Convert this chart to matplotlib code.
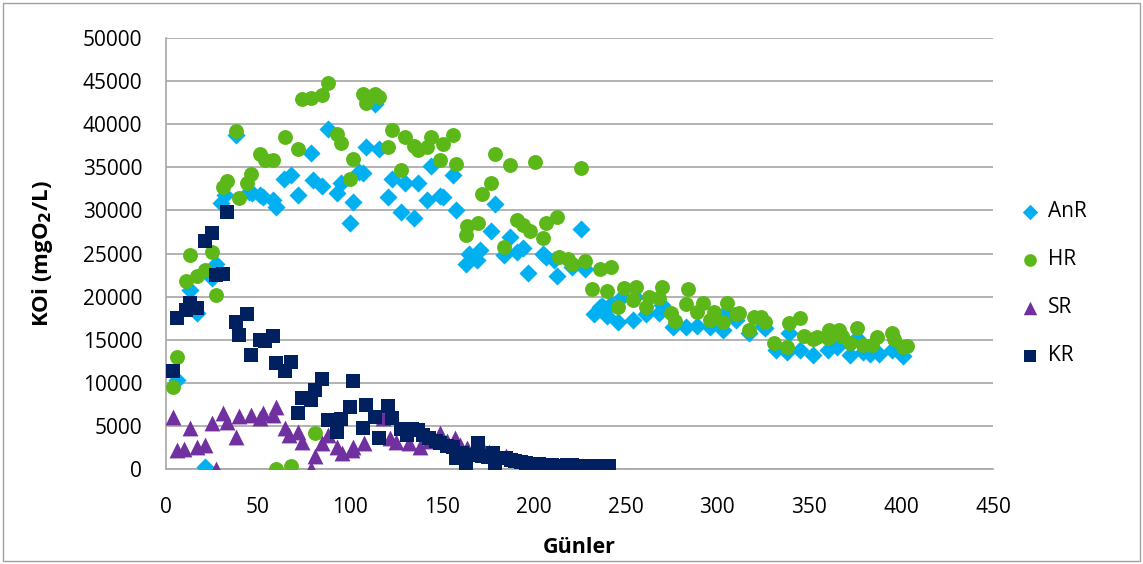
import matplotlib.pyplot as plt
from matplotlib.patches import Rectangle

plt.rcParams['font.family'] = ['Open Sans', 'DejaVu Sans']

# AnR reactor
anr_days = [6, 13, 17, 21, 25, 27, 30, 32, 38, 45, 47, 51, 53, 58, 60, 64, 68, 72, 79, 80,
            85, 88, 93, 95, 100, 102, 105, 107, 109, 114, 116, 121, 123, 128, 130, 135, 137,
            142, 144, 149, 151, 156, 158, 163, 165, 169, 171, 177, 179, 184, 187, 191, 194,
            197, 205, 207, 211, 213, 221, 226, 228, 233, 236, 237, 240, 242, 246, 248, 254,
            255, 261, 268, 270, 276, 283, 289, 296, 303, 304, 310, 317, 325, 326, 332, 338,
            339, 345, 352, 360, 365, 372, 376, 379, 383, 388, 395, 401]
anr_koi = [10300, 20800, 18100, 200, 22200, 23800, 30900, 31800, 38800, 32100, 32000, 31800,
           31500, 31200, 30400, 33700, 34100, 31800, 36700, 33500, 32800, 39400, 32000, 33200,
           28500, 31000, 34400, 34300, 37400, 42400, 37100, 31500, 33700, 29800, 33200, 29100,
           33200, 31200, 35100, 31700, 31600, 34100, 30000, 23800, 25000, 24200, 25400, 27600,
           30700, 24800, 26900, 25200, 25600, 22700, 25000, 24600, 24200, 22400, 23400, 27800,
           23200, 18000, 18800, 18900, 17700, 19200, 17100, 20000, 17300, 20000, 18000, 18100,
           19000, 16500, 16500, 16600, 16500, 16100, 18100, 17300, 15800, 16600, 16400, 13800,
           13600, 15800, 13800, 13200, 13800, 14100, 13200, 15200, 13600, 13400, 13400, 13800,
           13100]

# HR reactor
hr_days = [4, 6, 11, 13, 17, 21, 25, 27, 31, 33, 38, 40, 44, 46, 51, 54, 58, 60, 65, 68, 72,
           74, 79, 81, 85, 88, 93, 95, 100, 102, 107, 109, 114, 116, 121, 123, 128, 130, 135,
           137, 142, 144, 149, 151, 156, 158, 163, 164, 170, 172, 177, 179, 184, 187, 191, 194,
           198, 201, 205, 207, 213, 214, 219, 221, 226, 228, 232, 236, 240, 242, 246, 249, 254,
           256, 261, 263, 268, 270, 275, 277, 283, 284, 289, 292, 296, 298, 303, 305, 310, 312,
           317, 320, 324, 326, 331, 338, 339, 345, 347, 352, 354, 360, 361, 366, 368, 372, 376,
           379, 384, 387, 395, 396, 401, 403]
hr_koi = [9500, 13000, 21800, 24800, 22400, 23100, 25200, 20200, 32700, 33400, 39200, 31400,
          33200, 34200, 36600, 35900, 35800, 0, 38500, 300, 37100, 42900, 43000, 4200, 43400,
          44800, 38900, 37800, 33600, 36000, 43500, 42500, 43500, 43100, 37400, 39300, 34700,
          38500, 37500, 37000, 37400, 38500, 35800, 37700, 38700, 35400, 27100, 28200, 28500,
          31900, 33200, 36500, 25800, 35300, 28900, 28300, 27600, 35600, 26800, 28500, 29200,
          24600, 24400, 23800, 34900, 24100, 20900, 23200, 20600, 23400, 18800, 21000, 19600,
          21100, 18800, 20000, 19800, 21100, 18100, 17200, 19100, 20900, 18200, 19300, 17300,
          18200, 17100, 19300, 18000, 18100, 16100, 17600, 17600, 17000, 14600, 14200, 16900,
          17500, 15400, 15100, 15300, 15200, 16100, 16100, 15400, 14600, 16400, 14400, 14400,
          15300, 15800, 15100, 14200, 14300]

# SR reactor
sr_days = [4, 6, 10, 13, 17, 21, 25, 27, 31, 33, 38, 40, 46, 51, 53, 58, 60, 65, 67, 72, 74,
           79, 81, 85, 88, 93, 96, 101, 102, 108, 118, 122, 125, 132, 138, 143, 149, 153, 157,
           160, 164, 168, 172, 176, 180, 185]
sr_koi = [6000, 2200, 2300, 4800, 2600, 2800, 5300, 0, 6500, 5500, 3700, 6100, 6300, 5900,
          6500, 6300, 7200, 4800, 3900, 4300, 3100, 0, 1500, 3000, 4000, 2600, 1900, 2200,
          2600, 3000, 5900, 3600, 3100, 3000, 2600, 3300, 4200, 3200, 3600, 2800, 2400, 2700,
          2500, 2000, 1800, 1500]

# KR reactor
kr_days = [4, 6, 11, 13, 17, 21, 25, 27, 31, 33, 38, 40, 44, 46, 51, 54, 58, 60, 65, 68, 72,
           74, 79, 81, 85, 88, 93, 95, 100, 102, 107, 109, 114, 116, 121, 123, 128, 131, 134,
           137, 140, 143, 147, 149, 153, 156, 158, 161, 163, 166, 170, 172, 175, 178, 179, 182,
           185, 188, 190, 193, 196, 200, 203, 207, 210, 214, 218, 221, 225, 229, 232, 235, 238,
           241]
kr_koi = [11400, 17500, 18400, 19300, 18700, 26500, 27400, 22500, 22600, 29800, 17000, 15500,
          18000, 13200, 15000, 14800, 15400, 12300, 11400, 12400, 6500, 8200, 8000, 9200, 10500,
          5700, 4300, 5800, 7200, 10200, 4800, 7400, 6000, 3600, 7300, 5900, 4700, 4000, 4600,
          4500, 3900, 3600, 3200, 3000, 2700, 2600, 1300, 1900, 700, 1600, 3000, 1500, 1400,
          1900, 500, 1300, 1300, 1000, 900, 800, 700, 500, 600, 400, 500, 300, 500, 500, 400,
          100, 300, 100, 300, 300]

fig = plt.figure(figsize=(11.43, 5.64), dpi=100)
ax = fig.add_axes([0.1452, 0.1684, 0.7236, 0.7642])

ax.scatter(anr_days, anr_koi, marker='D', s=85, color='#00B0F0', label='AnR', zorder=3, linewidths=0)
ax.scatter(hr_days, hr_koi, marker='o', s=115, color='#5BB818', label='HR', zorder=4, linewidths=0)
ax.scatter(sr_days, sr_koi, marker='^', s=130, color='#7030A0', label='SR', zorder=5, linewidths=0)
ax.scatter(kr_days, kr_koi, marker='s', s=115, color='#002060', label='KR', zorder=6, linewidths=0)

ax.set_xlim(0, 450)
ax.set_ylim(0, 50000)
ax.set_xticks(range(0, 451, 50))
ax.set_yticks(range(0, 50001, 5000))
ax.tick_params(length=0, labelsize=15)
ax.tick_params(axis='y', pad=17)
ax.tick_params(axis='x', pad=20)
ax.grid(axis='y', color='#A6A6A6', linewidth=1.2)
ax.set_axisbelow(True)
for side in ['top', 'right']:
    ax.spines[side].set_visible(False)
for side in ['left', 'bottom']:
    ax.spines[side].set_color('#A6A6A6')
    ax.spines[side].set_linewidth(1.2)

ax.set_xlabel('Günler', fontsize=15.5, fontweight='bold', labelpad=14)
ax.set_ylabel(r'KOi (mgO$_\mathbf{2}$/L)', fontsize=16, fontweight='bold', labelpad=20)

ax.legend(loc='center left', bbox_to_anchor=(1.009, 0.43), frameon=False, fontsize=15,
          labelspacing=1.3, handlelength=1.0, handletextpad=0.4, markerscale=0.85)

# outer chart border
fig.patches.append(Rectangle((0.003, 0.005), 0.994, 0.99, transform=fig.transFigure,
                             fill=False, edgecolor='#A0A0A0', linewidth=1))

fig.savefig('out.png', dpi=100)
